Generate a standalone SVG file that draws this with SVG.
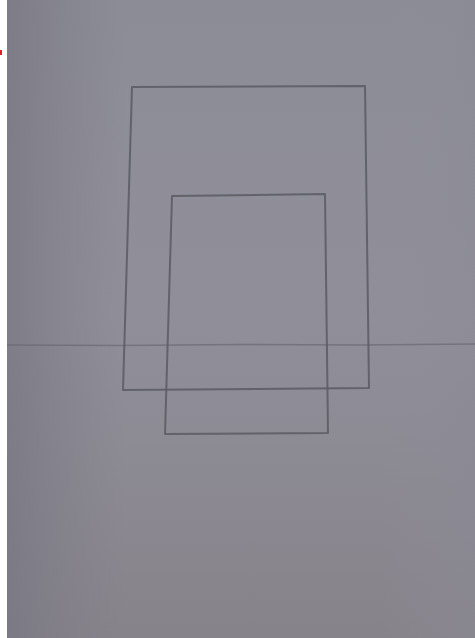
<svg xmlns="http://www.w3.org/2000/svg" width="475" height="638" viewBox="0 0 475 638">
<defs>
<linearGradient id="bg" x1="0" y1="0" x2="0" y2="1">
<stop offset="0" stop-color="#8c8c97"/>
<stop offset="0.5" stop-color="#908f99"/>
<stop offset="1" stop-color="#87838b"/>
</linearGradient>
<linearGradient id="side" x1="0" y1="0" x2="1" y2="0">
<stop offset="0" stop-color="#767580" stop-opacity="0.7"/>
<stop offset="0.25" stop-color="#7d7c86" stop-opacity="0"/>
<stop offset="0.8" stop-color="#908f99" stop-opacity="0"/>
<stop offset="1" stop-color="#8a8a95" stop-opacity="0.4"/>
</linearGradient>
<style>
.pencil{fill:none;stroke:#5b5a63;stroke-width:2;stroke-linecap:round;stroke-linejoin:round;opacity:0.85}
.faint{fill:none;stroke:#6a6972;stroke-width:1.5;opacity:0.7}
</style>
</defs>
<rect x="0" y="0" width="475" height="638" fill="#ffffff"/>
<rect x="7" y="0" width="468" height="638" fill="url(#bg)"/>
<rect x="7" y="0" width="468" height="638" fill="url(#side)"/>
<rect x="0" y="50" width="2" height="5" fill="#e02020"/>
<g id="baseline">
<path class="faint" d="M7 345 L120 345.5 L240 344.5 L360 345 L475 344"/>
</g>
<g id="large-rect">
<path class="pencil" d="M132 87 L365 86 L369 388 L123 390 Z"/>
</g>
<g id="small-rect">
<path class="pencil" d="M172 196 L325 194 L328 433 L165 434 Z"/>
</g>
</svg>
